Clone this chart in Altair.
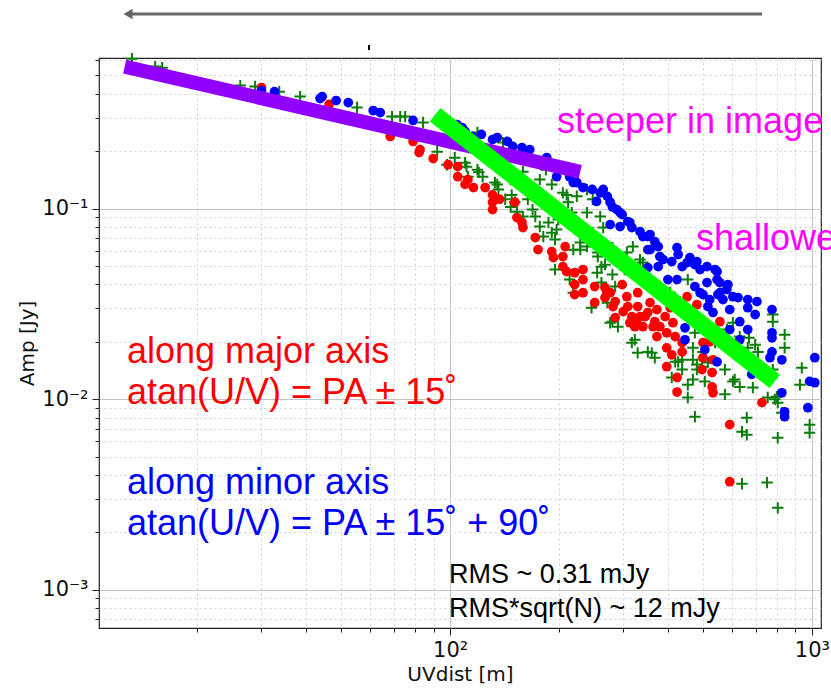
import altair as alt
import pandas as pd

# ---- data ----
red_uv = [30.1, 46.3, 68.3, 79.0, 82.6, 82.1, 89.8, 98.7, 105, 105,
          110, 112, 116, 125, 131, 131, 137, 131, 151, 153,
          158, 159, 172, 175, 191, 193, 208, 205, 205, 210,
          221, 233, 221, 233, 221, 233, 251, 251, 268, 268,
          271, 277, 282, 286, 286, 299, 301, 308, 310, 314,
          318, 324, 328, 330, 330, 335, 341, 346, 352, 357,
          364, 368, 373, 373, 380, 393, 397, 397, 397, 406,
          410, 413, 419, 424, 424, 438, 438, 452, 481, 497,
          500, 500, 530, 530, 533, 533, 557, 522, 728, 593,
          593]
red_amp = [0.432, 0.352, 0.239, 0.225, 0.204, 0.197, 0.183, 0.170, 0.166, 0.147,
           0.134, 0.142, 0.129, 0.129, 0.118, 0.108, 0.112, 0.0988, 0.108, 0.0897,
           0.0845, 0.0795, 0.0705, 0.0609, 0.0595, 0.0553, 0.0632, 0.0560, 0.0496, 0.0467,
           0.0461, 0.0479, 0.0399, 0.0424, 0.0354, 0.0362, 0.0390, 0.0321, 0.0341, 0.0385,
           0.0366, 0.0362, 0.0306, 0.0325, 0.0268, 0.0399, 0.0288, 0.0345, 0.0306, 0.0252,
           0.0271, 0.0240, 0.0255, 0.0362, 0.0306, 0.0271, 0.0240, 0.0271, 0.0285, 0.0321,
           0.0240, 0.0255, 0.0295, 0.0213, 0.0240, 0.0271, 0.0223, 0.0186, 0.0148, 0.0302,
           0.0171, 0.0252, 0.0213, 0.0130, 0.0109, 0.0198, 0.0177, 0.0345, 0.0313, 0.0143,
           0.0198, 0.0165, 0.0138, 0.0116, 0.0108, 0.0161, 0.0255, 0.0200, 0.00959, 0.00735,
           0.00369]

blue_uv = [30.1, 32.7, 43.7, 44.3, 48.4, 52.3, 61.3, 64.1, 79.0, 104.5,
           108, 110, 115, 122, 131, 135, 144, 149, 158, 164,
           166, 185, 197, 214, 219, 224, 233, 247, 260, 265,
           272, 254, 277, 281, 289, 295, 299, 310, 314, 318,
           277, 295, 335, 341, 352, 357, 368, 376, 352, 357,
           380, 424, 427, 388, 410, 438, 452, 460, 475, 481,
           491, 513, 540, 547, 547, 513, 424, 400, 475, 500,
           522, 550, 557, 557, 582, 586, 605, 568, 593, 625,
           665, 705, 665, 697, 776, 632, 593, 665, 776, 776,
           632, 776, 766, 826, 682, 826, 841, 841, 975, 986,
           1019, 1019, 446, 446, 506, 547, 491, 516, 533, 352,
           376]
blue_amp = [0.416, 0.411, 0.378, 0.387, 0.369, 0.360, 0.327, 0.319, 0.290, 0.276,
            0.266, 0.254, 0.239, 0.245, 0.230, 0.236, 0.225, 0.212, 0.209, 0.199,
            0.204, 0.185, 0.147, 0.147, 0.137, 0.137, 0.129, 0.126, 0.121, 0.126,
            0.116, 0.109, 0.108, 0.102, 0.0988, 0.0953, 0.0930, 0.0855, 0.0845, 0.0795,
            0.0824, 0.0805, 0.0757, 0.0713, 0.0713, 0.0731, 0.0671, 0.0632, 0.0609, 0.0609,
            0.0560, 0.0624, 0.0574, 0.0540, 0.0527, 0.0496, 0.0521, 0.0553, 0.0508, 0.0527,
            0.0479, 0.0496, 0.0479, 0.0467, 0.0424, 0.0409, 0.0424, 0.0424, 0.0390, 0.0354,
            0.0333, 0.0354, 0.0409, 0.0362, 0.0376, 0.0399, 0.0345, 0.0333, 0.0295, 0.0341,
            0.0333, 0.0325, 0.0302, 0.0278, 0.0295, 0.0255, 0.0232, 0.0232, 0.0223, 0.0210,
            0.0205, 0.0177, 0.0165, 0.0161, 0.0135, 0.0108, 0.00859, 0.00809, 0.00902, 0.0124,
            0.0122, 0.0165, 0.0237, 0.0205, 0.0182, 0.0157, 0.0362, 0.0306, 0.0285, 0.0490,
            0.0496]

all_uv = [13.2, 15.3, 16.0, 26.3, 28.9, 33.7, 38.5, 55.3, 69.1, 72.8,
          75.1, 84.2, 92.1, 103, 110, 119, 123, 119, 135, 148,
          151, 159, 98, 111, 112, 120, 133, 136, 142, 147,
          153, 156, 164, 169, 172, 177, 181, 187, 191, 195,
          199, 197, 205, 212, 217, 224, 229, 239, 239, 248,
          256, 255, 268, 260, 224, 195, 214, 219, 246, 262,
          286, 272, 191, 177, 159, 147, 210, 239, 265, 244,
          229, 219, 256, 281, 308, 335, 304, 262, 281, 277,
          291, 318, 330, 352, 368, 454, 452, 475, 427, 516,
          281, 324, 361, 410, 438, 454, 454, 469, 475, 419,
          469, 506, 497, 780, 780, 841, 841, 697, 710, 665,
          575, 612, 632, 687, 575, 755, 800, 805, 826, 938,
          927, 661, 641, 661, 805, 986, 986, 641, 752, 805,
          670, 605, 632, 582, 540, 500, 469, 481, 357, 373,
          406, 432, 341, 320, 438, 481, 605, 780, 790, 140,
          184, 219, 239, 248]
all_amp = [0.612, 0.556, 0.549, 0.442, 0.437, 0.411, 0.387, 0.339, 0.304, 0.304,
           0.304, 0.283, 0.199, 0.185, 0.174, 0.160, 0.147, 0.251, 0.134, 0.118,
           0.108, 0.0908, 0.170, 0.166, 0.147, 0.155, 0.137, 0.126, 0.112, 0.102,
           0.0964, 0.0876, 0.112, 0.0988, 0.0908, 0.0805, 0.0713, 0.0845, 0.0748, 0.0688,
           0.0876, 0.0776, 0.121, 0.108, 0.0953, 0.0845, 0.0609, 0.0632, 0.0713, 0.0748,
           0.0560, 0.0461, 0.0508, 0.0908, 0.116, 0.0479, 0.0424, 0.0362, 0.0302, 0.0409,
           0.0390, 0.0321, 0.134, 0.142, 0.156, 0.142, 0.118, 0.0953, 0.0795, 0.0713,
           0.0663, 0.0609, 0.0588, 0.0624, 0.0588, 0.0540, 0.0479, 0.0496, 0.0451, 0.0252,
           0.0240, 0.0198, 0.0175, 0.0177, 0.0165, 0.0424, 0.0271, 0.0223, 0.0157, 0.0156,
           0.0255, 0.0205, 0.0175, 0.0130, 0.0143, 0.0119, 0.0102, 0.0127, 0.00809, 0.0157,
           0.0161, 0.0124, 0.0148, 0.0278, 0.0255, 0.0218, 0.0186, 0.0193, 0.0177, 0.0186,
           0.0143, 0.0127, 0.0116, 0.0115, 0.0106, 0.0102, 0.0103, 0.00959, 0.00849, 0.0146,
           0.0119, 0.00800, 0.00675, 0.00651, 0.00628, 0.00735, 0.00667, 0.00360, 0.00365, 0.00269,
           0.0210, 0.0252, 0.0213, 0.0232, 0.0198, 0.0177, 0.0186, 0.0143, 0.0424, 0.0390,
           0.0362, 0.0325, 0.0521, 0.0632, 0.0161, 0.0152, 0.0124, 0.0143, 0.00998, 0.222,
           0.160, 0.142, 0.126, 0.112]

shallow_uv = [12.6, 229]
shallow_amp = [0.556, 0.156]
steep_uv = [90.9, 790]
steep_amp = [0.311, 0.0124]

x_ticks = [20, 30, 40, 50, 60, 70, 80, 90, 100,
           200, 300, 400, 500, 600, 700, 800, 900, 1000]
y_ticks = [0.0007, 0.0008, 0.0009, 0.001,
           0.002, 0.003, 0.004, 0.005, 0.006, 0.007, 0.008, 0.009, 0.01,
           0.02, 0.03, 0.04, 0.05, 0.06, 0.07, 0.08, 0.09, 0.1,
           0.2, 0.3, 0.4, 0.5, 0.6]

MAJOR = "abs(log(datum.value)/LN10 - round(log(datum.value)/LN10)) < 0.001"


def cond(major, minor):
    return {"condition": {"test": MAJOR, "value": major}, "value": minor}


common_axis = dict(
    grid=True,
    gridColor=cond("#c4c4c4", "#d2d2d2"),
    gridDash=cond([], [2, 3]),
    gridWidth=1,
    tickSize=cond(7, 4),
    tickColor="#222222",
    tickWidth=1,
    domain=False,
    labelFont="DejaVu Sans",
    labelFontSize=21,
    labelColor="#111111",
    titleFont="DejaVu Sans",
    titleFontSize=20,
    titleFontWeight="normal",
    titleColor="#111111",
    labelOverlap=False,
    labelFlush=False,
)

x_axis = alt.Axis(
    values=x_ticks,
    title="UVdist [m]",
    labelExpr="datum.value == 100 ? '10²' : datum.value == 1000 ? '10³' : ''",
    labelPadding=4,
    titlePadding=4,
    **common_axis,
)
y_axis = alt.Axis(
    values=y_ticks,
    title="Amp [Jy]",
    labelExpr="datum.value == 0.1 ? '10⁻¹' : datum.value == 0.01 ? '10⁻²' : datum.value == 0.001 ? '10⁻³' : ''",
    labelPadding=4,
    titlePadding=4,
    **common_axis,
)

xs = alt.Scale(type="log", domain=[10.7, 1060], nice=False)
ys = alt.Scale(type="log", domain=[0.00063, 0.617], nice=False)

X = alt.X("uv:Q", scale=xs, axis=x_axis)
Y = alt.Y("amp:Q", scale=ys, axis=y_axis)

df_all = pd.DataFrame({"uv": all_uv, "amp": all_amp})
df_red = pd.DataFrame({"uv": red_uv, "amp": red_amp})
df_blue = pd.DataFrame({"uv": blue_uv, "amp": blue_amp})
df_shallow = pd.DataFrame({"uv": shallow_uv, "amp": shallow_amp})
df_steep = pd.DataFrame({"uv": steep_uv, "amp": steep_amp})

pts_all = alt.Chart(df_all).mark_point(
    shape="M-1,0L1,0M0,-1L0,1", size=130, filled=False,
    color="#0a7d0a", strokeWidth=2, opacity=1,
).encode(x=X, y=Y)
pts_red = alt.Chart(df_red).mark_circle(size=95, color="#ff0000", opacity=1).encode(x=X, y=Y)
pts_blue = alt.Chart(df_blue).mark_circle(size=95, color="#0000ff", opacity=1).encode(x=X, y=Y)

line_shallow = alt.Chart(df_shallow).mark_line(
    color="#9100ff", strokeWidth=14, strokeCap="butt"
).encode(x=X, y=Y)
line_steep = alt.Chart(df_steep).mark_line(
    color="#00ff00", strokeWidth=17, strokeCap="butt"
).encode(x=X, y=Y)


def label(txt, x, y, color, size, font="Liberation Sans"):
    return alt.Chart(pd.DataFrame({"t": [txt]})).mark_text(
        align="left", baseline="alphabetic", font=font, fontSize=size, color=color,
    ).encode(x=alt.value(x), y=alt.value(y), text="t:N")


texts = [
    label("steeper in image", 458, 75, "#ff00ff", 36),
    label("shallower", 597, 192, "#ff00ff", 36),
    label("along major axis", 28, 305, "#ff0000", 36),
    label("atan(U/V) = PA ± 15˚", 28, 346, "#ff0000", 36),
    label("along minor axis", 28, 436, "#0000ff", 36),
    label("atan(U/V) = PA ± 15˚ + 90˚", 28, 477, "#0000ff", 36),
    label("RMS ~ 0.31 mJy", 350, 525, "black", 27),
    label("RMS*sqrt(N) ~ 12 mJy", 350, 559, "black", 27),
]

title_tick = alt.Chart(pd.DataFrame({"a": [0]})).mark_rule(
    color="black", strokeWidth=2
).encode(x=alt.value(270), y=alt.value(-13), y2=alt.value(-8))

arrow_shaft = alt.Chart(pd.DataFrame({"a": [0]})).mark_rule(
    color="#666666", strokeWidth=3
).encode(x=alt.value(32), x2=alt.value(663), y=alt.value(-44))
arrow_head = alt.Chart(pd.DataFrame({"a": [0]})).mark_point(
    shape="triangle-left", filled=True, size=110, color="#666666", opacity=1
).encode(x=alt.value(29), y=alt.value(-44))

chart = alt.layer(
    pts_all, pts_red, pts_blue, line_shallow, line_steep,
    *texts, title_tick, arrow_shaft, arrow_head,
).properties(
    width=722,
    height=570,
    padding={"left": 99, "top": 58, "right": 10, "bottom": 62},
    autosize=alt.AutoSizeParams(type="none"),
    background="white",
).configure_view(stroke="#222222", strokeWidth=1.2)

chart.save("out.html", embed_options={"renderer": "svg", "actions": False})
